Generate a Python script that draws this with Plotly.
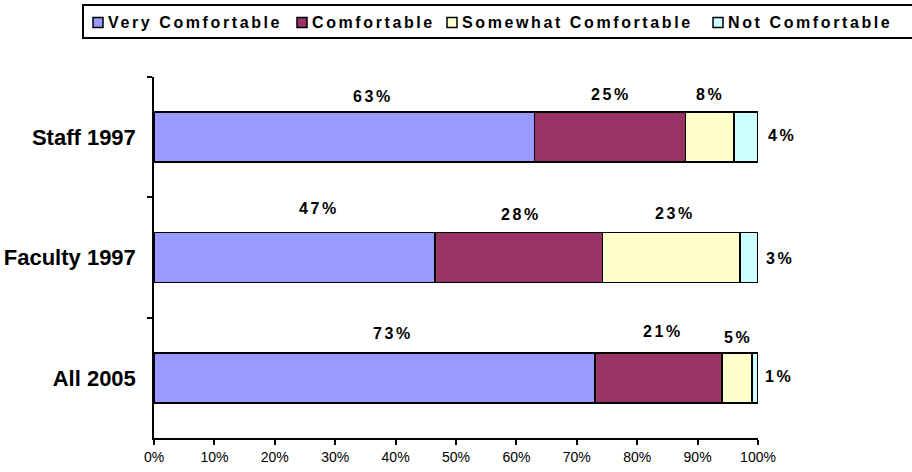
import plotly.graph_objects as go

# Survey groups (top to bottom) and response shares in percent
groups = ["Staff 1997", "Faculty 1997", "All 2005"]
series_names = ["Very Comfortable", "Comfortable", "Somewhat Comfortable", "Not Comfortable"]
very_comfortable = [63, 47, 73]
comfortable = [25, 28, 21]
somewhat_comfortable = [8, 23, 5]
not_comfortable = [4, 3, 1]
x_ticks = [0, 10, 20, 30, 40, 50, 60, 70, 80, 90, 100]

series_values = [very_comfortable, comfortable, somewhat_comfortable, not_comfortable]
colors = ["#9999FF", "#993366", "#FFFFCC", "#CCFFFF"]

# Label placement: x as a fraction of the axis width, vertical pixel offset from bar centre
label_x = [
    [0.363, 0.757, 0.921, 1.040],
    [0.273, 0.608, 0.863, 1.036],
    [0.396, 0.842, 0.967, 1.034],
]
label_dy = [
    [41, 43, 43, 2],
    [49, 43, 44, -1],
    [44, 46, 40, 1],
]

# Figure geometry (pixels)
W, H = 912, 472
L, R, T, B = 154, 154, 77, 34
PW, PH = W - L - R, H - T - B

# Legend strip along the top: box edges and left edge of each swatch
legend_box = (83, 5, 914, 38)
legend_swatch_x = [93, 297, 447, 713]
legend_mid_y = 22.5

FONT = "Liberation Sans, Arial, sans-serif"


def spaced(text, px):
    return f'<span style="letter-spacing:{px}px">{text}</span>'


def px_x(px):
    return (px - L) / PW


def px_y(py):
    return (H - B - py) / PH


fig = go.Figure()
for name, vals, col in zip(series_names, series_values, colors):
    fig.add_trace(go.Bar(
        y=groups, x=vals, name=name, orientation="h",
        marker=dict(color=col, line=dict(color="#000000", width=1.6)),
        hoverinfo="skip", showlegend=False,
    ))

annotations = []
for gi, g in enumerate(groups):
    for si, vals in enumerate(series_values):
        annotations.append(dict(
            x=label_x[gi][si], y=g, xref="paper", yref="y",
            xanchor="center", yanchor="middle",
            text=spaced(f"{vals[gi]}%", 2.6), showarrow=False,
            yshift=label_dy[gi][si],
            font=dict(family=FONT, size=16, color="#000000", weight="bold"),
        ))

# Legend: outer frame, coloured swatches and series names
shapes = [dict(
    type="rect", xref="paper", yref="paper",
    x0=px_x(legend_box[0]), x1=px_x(legend_box[2]),
    y0=px_y(legend_box[3]), y1=px_y(legend_box[1]),
    line=dict(color="#000000", width=2), fillcolor="#FFFFFF", layer="above",
)]
for name, col, sx in zip(series_names, colors, legend_swatch_x):
    shapes.append(dict(
        type="rect", xref="paper", yref="paper",
        x0=px_x(sx), x1=px_x(sx + 10),
        y0=px_y(legend_mid_y + 5), y1=px_y(legend_mid_y - 5),
        line=dict(color="#000000", width=1.5), fillcolor=col, layer="above",
    ))
    annotations.append(dict(
        x=px_x(sx + 13), y=px_y(legend_mid_y), xref="paper", yref="paper",
        xanchor="left", yanchor="middle", showarrow=False,
        text=spaced(name, 2.6),
        font=dict(family=FONT, size=16, color="#000000", weight="bold"),
    ))

fig.update_layout(
    width=W, height=H,
    margin=dict(l=L, r=R, t=T, b=B, autoexpand=False),
    paper_bgcolor="#FFFFFF", plot_bgcolor="#FFFFFF",
    barmode="stack", barnorm="percent", bargap=0.585,
    showlegend=False,
    annotations=annotations, shapes=shapes,
    font=dict(family=FONT, color="#000000"),
)
fig.update_xaxes(
    range=[0, 100], tickvals=x_ticks, ticktext=[f"{v}%" for v in x_ticks],
    showgrid=False, zeroline=False, automargin=False,
    showline=True, linecolor="#000000", linewidth=1.5,
    ticks="outside", ticklen=5, tickcolor="#000000", tickwidth=1.5,
    tickfont=dict(family=FONT, size=14, color="#000000"),
)
fig.update_yaxes(
    categoryorder="array", categoryarray=groups, range=[2.5, -0.5],
    showgrid=False, zeroline=False, automargin=False,
    showline=True, linecolor="#000000", linewidth=1.5,
    ticks="outside", ticklen=5, tickcolor="#000000", tickwidth=1.5,
    tickson="boundaries", ticklabelstandoff=12,
    tickfont=dict(family=FONT, size=22, color="#000000", weight="bold"),
)

fig.write_html("out.html")
